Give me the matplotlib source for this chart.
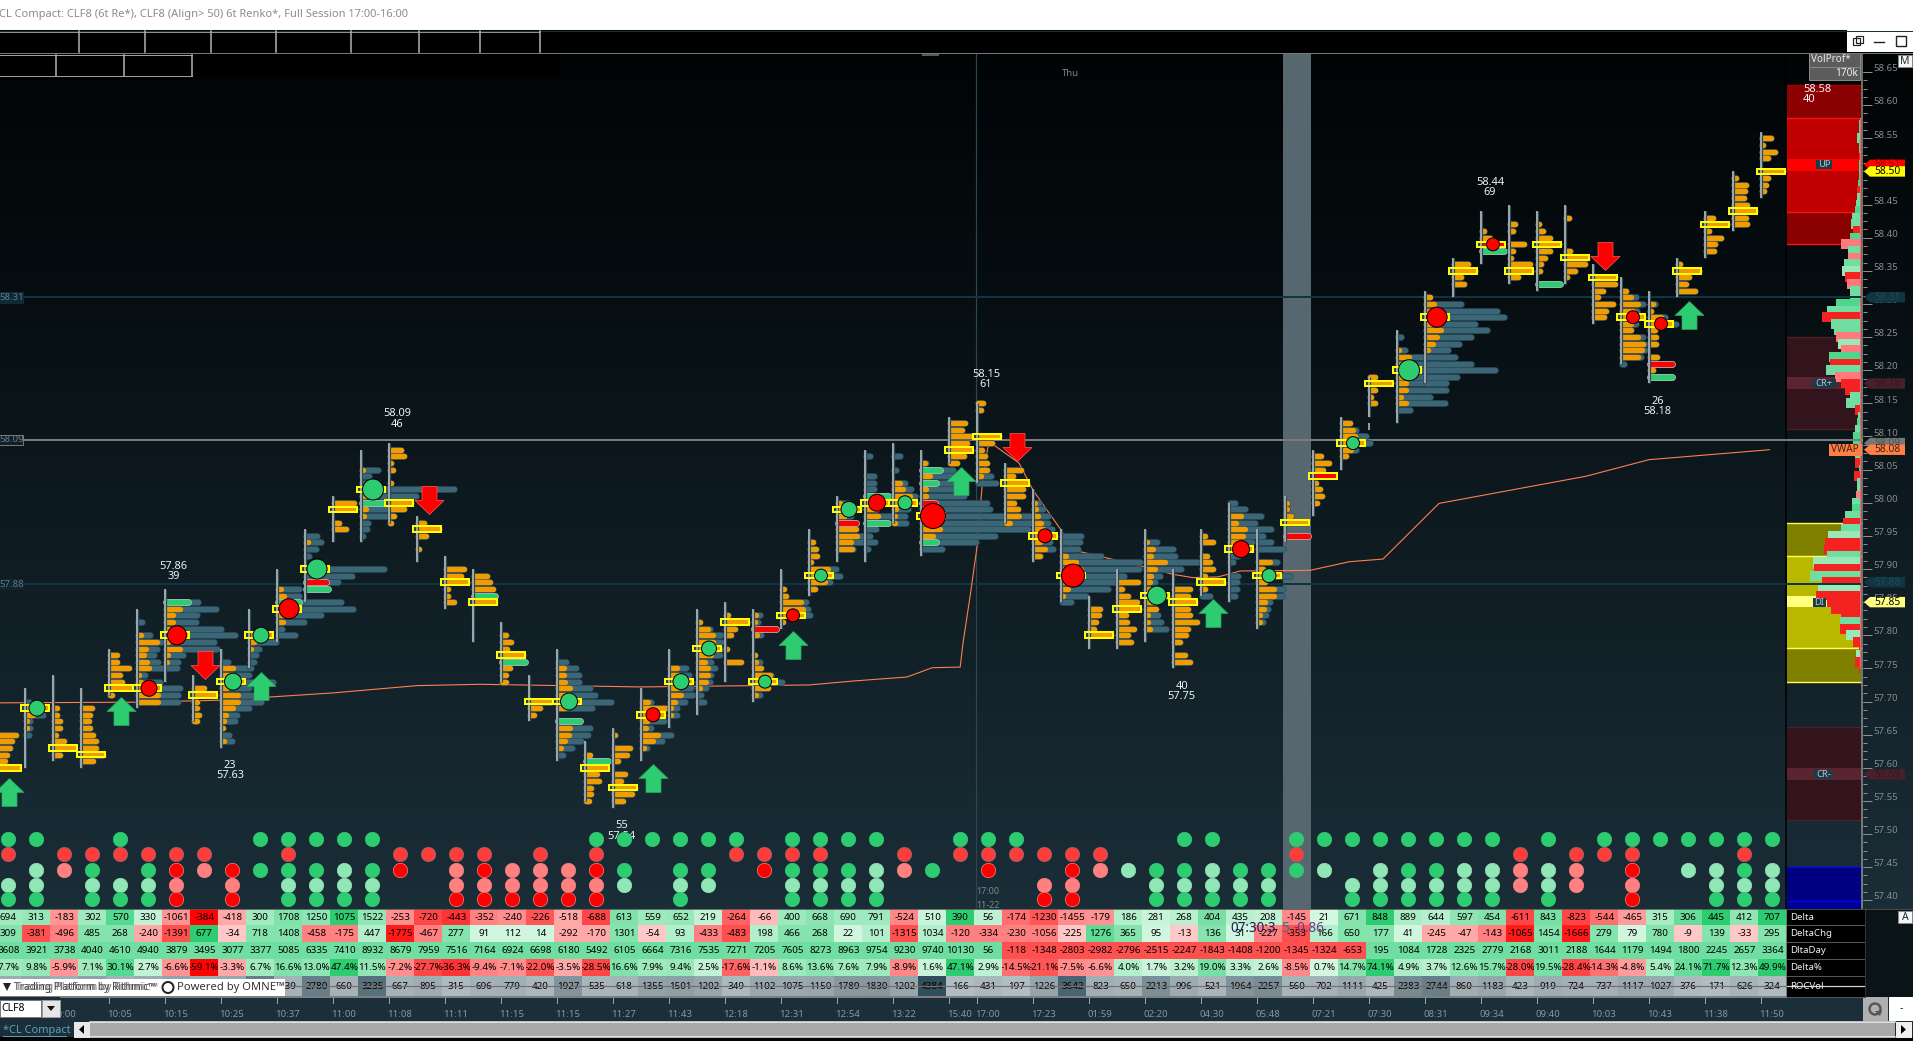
import numpy as np
import matplotlib
matplotlib.use('Agg')
import matplotlib.pyplot as plt
from matplotlib.patches import Rectangle, Polygon, Circle
from matplotlib.path import Path
from matplotlib.colors import LinearSegmentedColormap
from matplotlib.transforms import blended_transform_factory, Bbox, TransformedBbox

plt.rcParams['font.family'] = ['Noto Sans', 'DejaVu Sans']

# ---- renko bars, one entry per bar ----
bar_high = [57.65, 57.72, 57.74, 57.72, 57.78, 57.84, 57.87, 57.74, 57.78, 57.84, 57.90, 57.96, 58.01, 58.08, 58.09, 57.98,
            57.92, 57.90, 57.82, 57.74, 57.78, 57.64, 57.66, 57.72, 57.78, 57.84, 57.85, 57.84, 57.90, 57.96, 58.01, 58.08,
            58.09, 58.08, 58.13, 58.15, 58.06, 58.02, 57.96, 57.86, 57.90, 57.96, 57.90, 57.96, 58.00, 57.96, 58.01, 58.08,
            58.13, 58.19, 58.26, 58.32, 58.37, 58.44, 58.45, 58.44, 58.45, 58.36, 58.34, 58.32, 58.37, 58.44, 58.50, 58.56]
bar_low = [57.60, 57.60, 57.61, 57.60, 57.71, 57.69, 57.73, 57.67, 57.63, 57.75, 57.79, 57.85, 57.94, 57.94, 57.97, 57.91,
           57.84, 57.79, 57.73, 57.67, 57.61, 57.55, 57.54, 57.61, 57.66, 57.68, 57.73, 57.70, 57.81, 57.86, 57.91, 57.91,
           57.97, 57.92, 58.06, 58.03, 57.97, 57.91, 57.85, 57.78, 57.78, 57.79, 57.75, 57.86, 57.85, 57.81, 57.94, 57.98,
           58.05, 58.13, 58.12, 58.18, 58.31, 58.36, 58.33, 58.32, 58.33, 58.27, 58.21, 58.18, 58.31, 58.37, 58.41, 58.46]
bar_poc = [57.60, 57.69, 57.63, 57.62, 57.72, 57.72, 57.80, 57.71, 57.73, 57.80, 57.84, 57.90, 57.99, 58.02, 58.00, 57.96,
           57.88, 57.85, 57.77, 57.70, 57.70, 57.60, 57.57, 57.68, 57.73, 57.78, 57.82, 57.73, 57.83, 57.89, 57.99, 58.00,
           58.00, 57.98, 58.08, 58.10, 58.03, 57.95, 57.89, 57.80, 57.84, 57.86, 57.85, 57.88, 57.93, 57.89, 57.97, 58.04,
           58.09, 58.18, 58.20, 58.28, 58.35, 58.39, 58.35, 58.39, 58.37, 58.34, 58.28, 58.27, 58.35, 58.42, 58.44, 58.50]
prof_top = [57.65, 57.70, 57.72, 57.69, 57.77, 57.82, 57.86, 57.72, 57.76, 57.81, 57.87, 57.95, 58.00, 58.05, 58.08, 57.97,
            57.90, 57.89, 57.80, 57.71, 57.76, 57.62, 57.65, 57.70, 57.75, 57.83, 57.83, 57.83, 57.89, 57.94, 58.00, 58.07,
            58.07, 58.06, 58.12, 58.15, 58.05, 58.00, 57.95, 57.84, 57.88, 57.94, 57.87, 57.95, 58.00, 57.94, 58.00, 58.07,
            58.12, 58.19, 58.25, 58.31, 58.36, 58.41, 58.42, 58.42, 58.43, 58.34, 58.32, 58.30, 58.36, 58.43, 58.49, 58.55]
# traded at ask per price row, from prof_top down
prof_ask = [
    [21, 17, 15, 12, 10, 23], [3, 10, 10, 4, 4, 3], [3, 0, 0, 6, 6, 9, 9, 5, 13, 22, 9], [13, 11, 10, 11, 14, 17, 17, 24, 14],
    [10, 10, 22, 13, 15, 24, 5], [1, 0, 6, 22, 11, 9, 12, 14, 4, 6, 22, 23, 23], [1, 0, 17, 10, 10, 5, 22, 5, 17, 5, 4, 3],
    [13, 24, 6, 6, 8, 6], [0, 14, 14, 14, 8, 19, 19, 14, 7, 5, 4, 3, 5], [0, 8, 7, 4, 3, 0, 0], [6, 9, 0, 22, 8, 8, 1, 0],
    [2, 5, 3, 0, 0, 22, 0, 0, 0], [23, 24, 2, 8, 15], [4, 0, 0, 22, 10, 0, 7, 5, 2, 2, 1], [14, 17, 4, 6, 0, 4, 2, 0, 24, 17, 7, 4],
    [9, 24, 11, 3, 4], [21, 18, 24, 5, 5, 11], [16, 19, 22, 0, 24, 0, 3, 0, 0, 3, 3], [7, 12, 8, 24, 0, 11, 7, 7], [3, 24, 13, 7],
    [3, 9, 9, 10, 15, 15, 22, 10, 0, 0, 15, 14, 10, 6, 3], [7, 0, 24, 14, 16, 8, 8, 6], [4, 0, 19, 16, 7, 0, 14, 10, 24, 21, 12],
    [9, 27, 24, 8, 7, 19, 14, 5, 2], [10, 12, 24, 10, 14, 8, 4, 4], [1, 5, 13, 18, 18, 24, 16, 10, 13, 13, 11, 5, 2, 3],
    [5, 24, 12, 8, 0, 4, 0, 18, 0, 3, 3], [5, 4, 0, 6, 0, 0, 4, 5, 10, 19, 24, 17, 5], [2, 0, 5, 7, 22, 24, 24, 4],
    [6, 9, 10, 4, 21, 24, 18, 8], [5, 24, 10, 0, 21, 22, 16, 17, 3], [1, 1, 0, 0, 0, 0, 0, 24, 14, 15, 0, 2, 0, 3, 0],
    [2, 2, 2, 0, 9, 12, 19, 24, 5, 4, 4], [6, 0, 11, 0, 7, 7, 0, 16, 20, 20, 21, 14, 0, 2], [18, 15, 24, 20, 24, 17, 10],
    [8, 6, 0, 2, 2, 24, 17, 7, 10, 12, 12, 6, 3], [18, 10, 24, 20, 20, 11, 15, 16, 7], [4, 5, 7, 10, 12, 22, 9, 14, 9],
    [0, 0, 0, 7, 17, 22, 22, 15, 9, 4, 1], [13, 12, 9, 7, 24], [23, 7, 13, 22, 24, 11, 12, 19, 13, 16],
    [4, 10, 8, 22, 12, 8, 7, 7, 24, 13, 13, 5, 5, 7], [19, 17, 24, 17, 19, 26, 17, 15, 9, 3, 14, 19],
    [6, 14, 0, 8, 11, 14, 6, 24, 6, 2], [0, 0, 14, 9, 18, 16, 12, 24, 3, 0, 0, 3, 2, 2, 1],
    [1, 3, 3, 15, 8, 24, 10, 19, 19, 10, 9, 5, 5, 2], [4, 4, 8, 24, 0, 0], [10, 18, 12, 0, 5, 9, 11, 6], [11, 14, 16, 24, 12, 7],
    [8, 24, 8, 4, 8, 3], [3, 0, 4, 14, 13, 24, 8, 11, 11, 6, 11, 2], [7, 11, 10, 24, 8, 18, 14, 10, 5, 3, 2, 2, 2, 2],
    [17, 24, 10, 13], [5, 11, 0, 0], [8, 6, 0, 17, 6, 4, 23, 24, 11], [4, 8, 15, 24, 15, 10, 6, 5, 0, 0],
    [6, 0, 0, 0, 0, 7, 24, 22, 12, 4], [24, 24, 12, 7, 22, 15, 13], [7, 12, 19, 14, 24, 12, 12, 19, 24, 23, 19, 2],
    [6, 4, 14, 24, 8, 9, 9, 0, 10, 0, 6, 0], [5, 24, 14, 11, 20], [10, 24, 6, 18, 12, 11], [5, 15, 14, 13, 16, 24, 15, 16],
    [12, 4, 16, 9, 0, 24, 9, 7, 5]]
# total traded per price row; only bars that show more than the ask part
prof_total = {
    1: [6, 12, 20, 7, 7, 6], 5: [7, 0, 15, 26, 22, 19, 23, 28, 10, 25, 45, 43, 43],
    6: [3, 35, 53, 34, 33, 58, 72, 51, 54, 20, 15, 14], 8: [9, 29, 30, 54, 30, 32, 42, 30, 18, 16, 4, 10, 13],
    9: [2, 18, 29, 12, 9, 7, 4], 10: [24, 24, 66, 78, 46, 29, 7, 20], 11: [14, 18, 13, 6, 3, 81, 49, 35, 25],
    13: [19, 10, 6, 30, 28, 30, 28, 27, 9, 8, 4], 14: [14, 17, 4, 6, 0, 4, 67, 29, 24, 17, 7, 4],
    20: [11, 21, 24, 24, 35, 40, 56, 37, 0, 25, 35, 33, 26, 17, 8], 23: [12, 27, 24, 25, 12, 32, 23, 8, 2],
    24: [19, 22, 24, 24, 26, 18, 10, 10], 25: [2, 5, 15, 26, 26, 26, 25, 16, 20, 16, 15, 11, 6, 9],
    27: [9, 7, 25, 10, 0, 0, 4, 9, 10, 20, 31, 17, 9], 28: [2, 0, 5, 7, 27, 29, 31, 4], 29: [6, 9, 10, 4, 29, 33, 23, 8],
    30: [13, 24, 16, 21, 21, 33, 30, 18, 3], 31: [7, 2, 0, 11, 11, 11, 30, 24, 14, 28, 25, 13, 7, 12, 5],
    32: [9, 2, 5, 0, 14, 20, 24, 24, 17, 14, 15], 33: [7, 34, 40, 40, 45, 45, 68, 71, 111, 115, 109, 76, 57, 23],
    35: [8, 6, 0, 2, 2, 24, 17, 7, 10, 12, 12, 16, 21], 37: [8, 12, 17, 17, 21, 24, 19, 22, 9],
    38: [22, 21, 19, 42, 81, 80, 65, 62, 49, 27, 12], 41: [14, 30, 32, 55, 38, 17, 12, 7, 24, 13, 13, 15, 18, 23],
    43: [6, 14, 0, 8, 11, 14, 6, 24, 6, 11], 44: [8, 18, 34, 28, 44, 36, 25, 24, 11, 6, 3, 11, 10, 10, 8],
    45: [16, 28, 3, 22, 8, 35, 10, 28, 27, 15, 13, 11, 8, 2], 48: [11, 17, 27, 31, 17, 7],
    50: [6, 0, 10, 31, 45, 48, 38, 51, 51, 35, 50, 15], 51: [7, 38, 74, 81, 52, 64, 48, 36, 25, 32, 48, 72, 34, 23],
    58: [7, 17, 24, 18, 24, 17, 12, 24, 26, 26, 22, 5], 59: [8, 4, 18, 29, 8, 9, 9, 0, 10, 25, 6, 25]}

imb_bar = [6, 10, 11, 13, 17, 18, 20, 21, 31, 31, 33, 33, 33, 53, 55, 59, 11, 27, 30, 33, 46, 59]
imb_price = [57.85, 57.85, 57.87, 58.00, 57.86, 57.76, 57.67, 57.61, 58.01, 57.97, 58.05, 58.03, 57.94, 58.38, 58.33, 58.19,
             57.88, 57.81, 57.97, 58.00, 57.95, 58.21]
imb_size = [25, 24, 25, 24, 24, 26, 25, 25, 25, 25, 21, 17, 17, 25, 25, 25, 23, 25, 21, 16, 25, 25]
imb_side = ['g'] * 16 + ['r'] * 6
red_poc_bars = [47, 53]

dot_bar = [1, 5, 6, 8, 9, 10, 11, 13, 20, 23, 24, 25, 27, 28, 29, 30, 31, 32, 33, 37, 38, 41, 44, 45, 48, 50, 51, 53, 58, 59]
dot_side = ['g', 'r', 'r', 'g', 'g', 'r', 'g', 'g', 'g', 'r', 'g', 'g', 'g', 'r', 'g', 'g', 'r', 'g', 'r', 'r', 'r', 'g',
            'r', 'g', 'g', 'g', 'r', 'r', 'r', 'r']
dot_size = [16, 16, 19, 17, 16, 20, 20, 21, 17, 14, 16, 15, 13, 13, 13, 16, 17, 14, 25, 14, 23, 19, 17, 14, 13, 21, 20, 13, 13, 13]

up_bar = [0, 4, 9, 23, 28, 34, 43, 60]
up_price = [57.564, 57.685, 57.723, 57.584, 57.785, 58.033, 57.834, 58.283]
down_bar = [7, 15, 36, 57]
down_price = [57.755, 58.004, 58.084, 58.373]

note_text = ['58.09\n46', '57.86\n39', '23\n57.63', '58.15\n61', '40\n57.75', '58.44\n69', '26\n58.18', '55\n57.54']
note_x = [14.3, 6.31, 8.32, 35.32, 42.31, 53.32, 59.31, 22.31]
note_price = [58.126, 57.896, 57.596, 58.186, 57.715, 58.476, 58.145, 57.505]

vwap_x = [0.11, 5, 8, 12, 15, 17.25, 23, 29, 30.6, 32.5, 33.4, 34.4, 34.5, 34.75, 35, 35.2, 35.4, 35.6, 36.5, 37, 38, 38.4,
          41, 42, 42.7, 43.6, 44.4, 46.9, 48.3, 49.5, 51.5, 56.75, 59, 63.3]
vwap_p = [57.698, 57.699, 57.702, 57.713, 57.724, 57.726, 57.722, 57.725, 57.731, 57.737, 57.751, 57.752, 57.788, 57.858,
          57.933, 58.034, 58.087, 58.087, 58.06, 58.019, 57.959, 57.929, 57.903, 57.892, 57.887, 57.888, 57.897, 57.898,
          57.911, 57.915, 57.999, 58.04, 58.065, 58.08]

# right hand volume profile, 58.57 down to 57.75
vp_top = 58.57
vp_size = [1.5, 1.5, 3, 1, 1, 1, 1, 1, 1.5, 2, 3, 3, 4, 5, 8, 9, 7, 10, 19, 12, 12, 16, 18, 15, 13, 10, 10, 24, 33, 38, 29, 26,
           24, 22, 19, 31, 30, 34, 25, 19, 15, 10, 14, 5, 2, 3, 5, 7, 7, 5, 5, 5, 1, 6, 3, 3, 4, 8, 8, 15, 17, 19, 32, 35, 36,
           33, 47, 46, 50, 38, 42, 44, 33, 29, 19, 20, 20, 14, 7, 1, 4, 5, 1]
vp_kind = ['g', 'g', 'l', 'g', 'g', 'r', 'g', 'g', 'g', 'g', 'r', 'l', 'l', 'g', 'l', 'l', 'r', 'g', 's', 'l', 's', 'l', 'p', 'r',
           's', 'l', 'l', 'g', 'l', 'r', 'l', 'l', 's', 'p', 's', 'g', 'r', 'l', 's', 'r', 'r', 'l', 'l', 'r', 'l', 'g', 'l',
           'g', 'g', 'l', 'l', 'r', 'g', 'r', 'l', 'l', 's', 'l', 'g', 'l', 'r', 'l', 'p', 'r', 'r', 'l', 'p', 'r', 'l', 'r',
           'p', 'r', 'r', 'r', 'r', 'l', 'r', 'p', 'r', 'r', 'p', 'r', 'r']

# ---- price zones on the right ----
zone_low = [58.390, 58.439, 58.501, 58.111, 58.172, 57.730, 57.781, 57.842, 57.920, 57.521, 57.582, 57.387, 57.399]
zone_high = [58.630, 58.581, 58.519, 58.250, 58.190, 57.970, 57.920, 57.859, 57.970, 57.662, 57.600, 57.451, 57.451]
zone_color = ['#8b0000', '#c00000', '#ff0000', '#33131c', '#5a2431', '#808000', '#b8b800', '#ffff80', '#808000', '#33131c',
              '#5a2431', '#000090', '#000080']
zone_line = [58.630, 58.581, 58.439, 58.390, 58.250, 58.111, 57.970, 57.920, 57.781, 57.730, 57.662, 57.521, 57.451, 57.399]
zone_line_color = ['#a00000', '#ff1010', '#ff1010', '#ff1010', '#4a2029', '#4a2029', '#ffff50', '#ffff50', '#ffff50', '#ffff50',
                   '#4a2029', '#4a2029', '#0000ff', '#0000ff']

# ---- table under the chart ----
delta = [694, 313, -183, 302, 570, 330, -1061, -384, -418, 300, 1708, 1250, 1075, 1522, -253, -720, -443, -352, -240, -226,
         -518, -688, 613, 559, 652, 219, -264, -66, 400, 668, 690, 791, -524, 510, 390, 56, -174, -1230, -1455, -179, 186,
         281, 268, 404, 435, 208, -145, 21, 671, 848, 889, 644, 597, 454, -611, 843, -823, -544, -465, 315, 306, 445, 412, 707]
delta_chg = [309, -381, -496, 485, 268, -240, -1391, 677, -34, 718, 1408, -458, -175, 447, -1775, -467, 277, 91, 112, 14,
             -292, -170, 1301, -54, 93, -433, -483, 198, 466, 268, 22, 101, -1315, 1034, -120, -334, -230, -1056, -225, 1276,
             365, 95, -13, 136, 31, -227, -353, 166, 650, 177, 41, -245, -47, -143, -1065, 1454, -1666, 279, 79, 780, -9,
             139, -33, 295]
chg_shade = [3, 4, 3, 3, 3, 2, 4, 5, 1, 3, 3, 3, 3, 2, 5, 3, 3, 1, 1, 1, 2, 2, 3, 1, 2, 3, 4, 2, 3, 3, 1, 2, 4, 2, 3, 3, 3, 3, 1, 4,
             3, 1, 1, 3, 1, 3, 4, 2, 3, 3, 1, 2, 2, 3, 5, 3, 5, 3, 1, 3, 1, 3, 1, 3]
delta_day = [3608, 3921, 3738, 4040, 4610, 4940, 3879, 3495, 3077, 3377, 5085, 6335, 7410, 8932, 8679, 7959, 7516, 7164, 6924,
             6698, 6180, 5492, 6105, 6664, 7316, 7535, 7271, 7205, 7605, 8273, 8963, 9754, 9230, 9740, 10130, 56, -118, -1348,
             -2803, -2982, -2796, -2515, -2247, -1843, -1408, -1200, -1345, -1324, -653, 195, 1084, 1728, 2325, 2779, 2168,
             3011, 2188, 1644, 1179, 1494, 1800, 2245, 2657, 3364]
delta_pct = [7.7, 9.8, -5.9, 7.1, 30.1, 2.7, -6.6, -59.1, -3.3, 6.7, 16.6, 13.0, 47.4, 11.5, -7.2, -27.7, -36.3, -9.4, -7.1,
             -22.0, -3.5, -28.5, 16.6, 7.9, 9.4, 2.5, -17.6, -1.1, 8.6, 13.6, 7.6, 7.9, -8.9, 1.6, 47.1, 2.9, -14.5, -21.1,
             -7.5, -6.6, 4.0, 1.7, 3.2, 19.0, 3.3, 2.6, -8.5, 0.7, 14.7, 74.1, 4.9, 3.7, 12.6, 15.7, -28.0, 19.5, -28.4, -14.3,
             -4.8, 5.4, 24.1, 71.7, 12.3, 49.9]
# the first ten are under the white strip, only their cell colour shows
roc_vol = [900, 1200, 800, 1400, 700, 1000, 1300, 900, 1100, 2800, 639, 2780, 660, 3235, 667, 895, 315, 696, 779, 420, 1927,
           535, 618, 1355, 1501, 1202, 349, 1102, 1075, 1150, 1789, 1830, 1202, 4384, 166, 431, 197, 1226, 3642, 823, 650,
           2213, 996, 521, 1964, 2257, 560, 702, 1111, 425, 2383, 2744, 860, 1183, 423, 919, 724, 737, 1117, 1027, 376, 171,
           626, 324]
row_names = ['Delta', 'DeltaChg', 'DltaDay', 'Delta%', 'ROCVol']

# five signal rows above the table, one string per bar (top row first)
signals = ['gr.pg', 'g.ppg', '.rs..', '.rgpg', 'gr.pg', '.rgpg', '.rRsR', '.rs..', '..RsR', 'g.g..', 'grgpg',
           'g.gpg', 'g.ppg', 'g.gpg', '.rR..', '.r...', '.rssR', '.rRsR', '..ssR', '.rssR', '..ssR', 'grRsR', 'g.gp.', 'g....',
           'g.gpg', 'g.gp.', 'gr...', '.rR..', 'grgpg', 'grgpg', 'g.gpg', 'g.ppg', '.rs..', '..g..', 'gr...', 'grR..', 'gr...',
           '.r.sR', '.rRsR', '.rs..', '..p..', '..gpg', 'g.gpg', 'g.ppg', '..gpg', '..gpg', 'grg..', 'g.p..', 'g..pg', 'g.ppg',
           'g.gpg', 'g.gpg', 'g.ppg', 'g.ppg', '.rss.', 'g.ppg', '.rss.', 'gr...', 'grRsR', 'g....', 'g.p..', 'g.ppg', 'grgpg',
           'g.ppg']

time_bars = [2, 4, 6, 8, 10, 12, 14, 16, 18, 20, 22, 24, 26, 28, 30, 32, 34, 35, 37, 39, 41, 43, 45, 47, 49, 51, 53, 55, 57, 59, 61, 63]
time_labels = ['10:00', '10:05', '10:15', '10:25', '10:37', '11:00', '11:08', '11:11', '11:15', '11:15', '11:27', '11:43', '12:18',
               '12:31', '12:54', '13:22', '15:40', '17:00', '17:23', '01:59', '02:20', '04:30', '05:48', '07:21', '07:30', '08:31',
               '09:34', '09:40', '10:03', '10:43', '11:38', '11:50']

axis_major = [57.40, 57.45, 57.50, 57.55, 57.60, 57.65, 57.70, 57.75, 57.80, 57.85, 57.90, 57.95, 58.00, 58.05, 58.10, 58.15,
              58.20, 58.25, 58.30, 58.35, 58.40, 58.45, 58.50, 58.55, 58.60, 58.65]

W, H = 1913, 1041
BAR_PX = 28.0
PRICE_PX = 662.6
GREEN = '#2ecc71'
RED = '#ff0000'
ORANGE = '#f09c00'
SLATE = '#3b6675'
SLATE_DK = '#27465a'


def pts(px):
    return px * 0.72


fig = plt.figure(figsize=(W / 100, H / 100), dpi=100)


def layer(z, xlim, ylim):
    a = fig.add_axes([0, 0, 1, 1], zorder=z)
    a.set_xlim(*xlim)
    a.set_ylim(*ylim)
    a.axis('off')
    a.patch.set_visible(False)
    return a


bar_xlim = (3 / BAR_PX, (W + 3) / BAR_PX)
price_ylim = (57.4 + (900.3 - H) / PRICE_PX, 57.4 + 900.3 / PRICE_PX)

bg = layer(0, (0, W), (H, 0))
ax = layer(1, bar_xlim, price_ylim)     # bars / price
low = layer(2, bar_xlim, (H, 0))        # bars / pixel rows
ui = layer(3, (0, W), (H, 0))           # window chrome
edge = blended_transform_factory(bg.transData, ax.transData)  # x pixels, y price
edge_top = blended_transform_factory(ui.transData, ax.transData)

# chart background
grad = LinearSegmentedColormap.from_list('bg', [(0, '#010304'), (0.28, '#060d10'), (0.5, '#0c181d'), (0.8, '#15252d'), (1, '#1a2e38')])
bg.imshow(np.linspace(0, 1, 256).reshape(-1, 1), cmap=grad, extent=(0, W, 909, 30), aspect='auto', zorder=0)
bg.set_xlim(0, W)
bg.set_ylim(H, 0)
bg.add_patch(Rectangle((0, 909), W, H - 909, fc='#1a2f3a', ec='none'))
bg.add_patch(Rectangle((1283, 53), 28, 856, fc='#566770', ec='none', zorder=1))
bg.plot([975.5, 975.5], [53, 909], color='#2d4653', lw=pts(1.2), zorder=1)
bg.text(1070, 74, 'Thu', color='#7c8a90', fontsize=pts(9.5), ha='center', va='center')
bg.text(988, 892, '17:00', color='#7c8a90', fontsize=pts(9), ha='center', va='center')
bg.text(988, 905, '11-22', color='#7c8a90', fontsize=pts(9), ha='center', va='center')
bg.add_patch(Rectangle((922, 52), 17, 4, fc='#555b5e', ec='none', zorder=1))

# price level lines
ax.plot([24, 1862], [58.095, 58.095], color='#7a7a7a', lw=pts(2), transform=edge, zorder=2)
for lv in [58.31, 57.877]:
    ax.plot([24, 1862], [lv, lv], color='#103541', lw=pts(2), transform=edge, zorder=1.5)

# zones and right profile
for lo, hi, c in zip(zone_low, zone_high, zone_color):
    ax.add_patch(Rectangle((1787, lo), 74, hi - lo, fc=c, ec='none', transform=edge, zorder=1.2))
for lv, c in zip(zone_line, zone_line_color):
    ax.plot([1787, 1861], [lv, lv], color=c, lw=pts(1.4), transform=edge, zorder=1.3)
ax.plot([1786, 1786], [57.387, 58.70], color='#000000', lw=pts(1.5), transform=edge, zorder=1.3)

vp_colors = {'g': '#4fd68d', 'l': '#6fdea0', 'p': '#98e8b9', 'r': '#f52222', 's': '#ff7a7a'}
for k, (w, c) in enumerate(zip(vp_size, vp_kind)):
    p = vp_top - 0.01 * k
    ax.add_patch(Rectangle((1860 - w, p - 0.0075), w, 0.015, fc=vp_colors[c], ec='none', transform=edge, zorder=1.4))
ax.plot([1860, 1860], [57.75, 58.58], color='#ff6060', lw=pts(1), transform=edge, zorder=1.4)

# orange line
ax.plot(vwap_x, vwap_p, color='#ff7f50', lw=pts(1.1), zorder=2.5)

# profiles
for i in range(64):
    ask = prof_ask[i]
    total = prof_total.get(i, ask)
    rows = [prof_top[i] - 0.01 * k for k in range(len(total))]
    x0 = i + 1 / BAR_PX
    rt = [(p, t) for p, t in zip(rows, total) if t > 0]
    if rt:
        y = [a[0] for a in rt]
        xe = [x0 + max(a[1] - 3, 0) / BAR_PX for a in rt]
        ax.hlines(y, x0, xe, colors=SLATE_DK, lw=pts(6.6), capstyle='round', zorder=3)
        ax.hlines(y, x0, xe, colors=SLATE, lw=pts(5.4), capstyle='round', zorder=3)
    ra = [(p, t) for p, t in zip(rows, ask) if t > 0]
    if ra:
        y = [a[0] for a in ra]
        xe = [x0 + max(a[1] - 3, 0) / BAR_PX for a in ra]
        ax.hlines(y, x0, xe, colors=ORANGE, lw=pts(5.4), capstyle='round', zorder=3)
    for b, p, n, s in zip(imb_bar, imb_price, imb_size, imb_side):
        if b == i:
            xe = x0 + (n - 3) / BAR_PX
            ax.hlines(p, x0, xe, colors='#b9c4c6', lw=pts(6.8), capstyle='round', zorder=3)
            ax.hlines(p, x0, xe, colors=GREEN if s == 'g' else RED, lw=pts(5.4), capstyle='round', zorder=3)
    # price of control box
    p = bar_poc[i]
    h = 2.8 / PRICE_PX
    ax.add_patch(Rectangle((i - 4.3 / BAR_PX, p - h), 28.6 / BAR_PX, 2 * h, fc='#23404c', ec='none', zorder=3))
    ax.add_patch(Rectangle((i + 1 / BAR_PX, p - h), 22 / BAR_PX, 2 * h,
                           fc=RED if i in red_poc_bars else ORANGE, ec='none', zorder=3))
    ax.vlines(i, bar_low[i], bar_high[i], colors='#2d4a57', lw=pts(3.2), zorder=3)
    ax.vlines(i, bar_low[i], bar_high[i], colors='#b8bcbe', lw=pts(1.6), zorder=3)
    ax.add_patch(Rectangle((i - 4.3 / BAR_PX, p - h), 28.6 / BAR_PX, 2 * h, fc='none', ec='#ffff00', lw=pts(2.0), zorder=3))
ax.vlines(49, 58.11, 58.12, colors='#b8bcbe', lw=pts(1.6), zorder=3)

ax.scatter([b + 12 / BAR_PX for b in dot_bar], [bar_poc[b] for b in dot_bar], s=[pts(d) ** 2 for d in dot_size],
           c=[GREEN if s == 'g' else RED for s in dot_side], edgecolors='#000000', linewidths=pts(1), zorder=5)

# arrows
up_path = Path([(0, 14), (14.5, 0), (7.5, 0), (7.5, -14), (-7.5, -14), (-7.5, 0), (-14.5, 0), (0, 14)], closed=True)
down_path = Path([(0, -14), (14.5, 0), (7.5, 0), (7.5, 14), (-7.5, 14), (-7.5, 0), (-14.5, 0), (0, -14)], closed=True)
ax.scatter([b + 12.4 / BAR_PX for b in up_bar], up_price, marker=up_path, s=pts(29) ** 2, c=GREEN, edgecolors='#27a85e',
           linewidths=0.5, zorder=6)
ax.scatter([b + 12.4 / BAR_PX for b in down_bar], down_price, marker=down_path, s=pts(29) ** 2, c=RED, edgecolors='#ff5a5a',
           linewidths=0.5, zorder=6)

for t, x, p in zip(note_text, note_x, note_price):
    ax.text(x, p, t, color='#eef2f4', fontsize=pts(11), ha='center', va='center', linespacing=0.95, zorder=7)
ax.text(1803, 58.616, '58.58\n40', color='#f4f4f4', fontsize=pts(11), ha='left', va='center', linespacing=0.95,
        transform=edge, zorder=7)

# price axis
ax.plot([1862, 1862], [57.387, 58.68], color='#8f8f8f', lw=pts(1.5), transform=edge_top, zorder=8)
minor = [57.4 + 0.0125 * k for k in range(101)]
ax.hlines(minor, 1863, 1867, colors='#8f8f8f', lw=pts(1), transform=edge_top, zorder=8)
ax.hlines(axis_major, 1863, 1872, colors='#8f8f8f', lw=pts(1), transform=edge_top, zorder=8)
for p in axis_major:
    ax.text(1873, p + 3.3 / PRICE_PX, '%.2f' % p, color='#8a8a8a', fontsize=pts(9.6), ha='left', va='center',
            transform=edge_top, zorder=8)


def tag(price, text, fc, tc, x0=1864, half=5.2):
    h = half / PRICE_PX
    pts_xy = [(x0, price), (x0 + 6, price + h), (1905, price + h), (1905, price - h), (x0 + 6, price - h)]
    ax.add_patch(Polygon(pts_xy, closed=True, fc=fc, ec='none', transform=edge_top, zorder=9))
    ax.text(1874, price, text, color=tc, fontsize=pts(10.2), ha='left', va='center', transform=edge_top, zorder=9)


def zone_label(price, text, x0, x1):
    h = 4.6 / PRICE_PX
    ax.add_patch(Rectangle((x0, price - h), x1 - x0, 2 * h, fc='#1d3a48', ec='none', transform=edge, zorder=2))
    ax.text((x0 + x1) / 2, price, text, color='#b4c4cc', fontsize=pts(9.4), ha='center', va='center', transform=edge, zorder=2)


zone_label(58.51, 'UP', 1816, 1832)
zone_label(58.18, 'CR+', 1812, 1836)
zone_label(57.85, 'DI', 1813, 1826)
zone_label(57.59, 'CR-', 1814, 1833)
tag(58.51, '58.51', '#ff0000', '#a00000')
tag(58.50, '58.50', '#ffff00', '#000000')
tag(58.31, '58.31', '#123542', '#1f4a58')
tag(58.18, '58.18', '#4a1f2c', '#2c1a20')
tag(58.09, '58.09', '#777777', '#555555')
tag(58.08, '58.08', '#ff7f45', '#402010')
tag(57.88, '57.88', '#123542', '#1f4a58')
tag(57.85, '57.85', '#ffff80', '#000000')
tag(57.59, '57.59', '#4a1f2c', '#2c1a20')
ax.add_patch(Rectangle((1829, 58.08 - 6 / PRICE_PX), 33, 12 / PRICE_PX, fc='#ff7f45', ec='none', transform=edge_top, zorder=9))
ax.text(1845, 58.08, 'VWAP', color='#402010', fontsize=pts(10), ha='center', va='center', transform=edge_top, zorder=9)

# left tags
for lv, txt, fc, ec, tc in [(58.31, '58.31', '#102a35', '#102a35', '#5e7a85'), (58.095, '58.09', '#10202a', '#777777', '#6e7d84'),
                            (57.877, '57.88', '#10252f', '#10252f', '#5e7a85')]:
    h = 5.2 / PRICE_PX
    ax.add_patch(Rectangle((-2, lv - h), 25, 2 * h, fc=fc, ec=ec, lw=pts(1), transform=edge, zorder=2))
    ax.text(-1, lv, txt, color=tc, fontsize=pts(9.6), ha='left', va='center', transform=edge, zorder=2)

# signal dots
dot_fc = {'g': GREEN, 'p': '#90e6b5', 'r': '#ff3c3c', 'R': '#ff0000', 's': '#ff8080'}
dot_ec = {'g': GREEN, 'p': '#90e6b5', 'r': '#8a6a6a', 'R': '#ff8080', 's': '#ff8080'}
dot_rows = [839.3, 854.3, 869.7, 884.7, 899.3]
for i, s in enumerate(signals):
    for ry, c in zip(dot_rows, s):
        if c in dot_fc:
            low.scatter(i + 0.407, ry, s=pts(14.4) ** 2, c=dot_fc[c], edgecolors=dot_ec[c], linewidths=pts(0.7), zorder=3)

# table
pct_green = LinearSegmentedColormap.from_list('g', [(0, '#d8f8e5'), (0.05, '#a8ecc4'), (0.15, '#85e3ad'), (0.3, '#55d88f'), (0.47, GREEN), (1, GREEN)])
pct_red = LinearSegmentedColormap.from_list('r', [(0, '#ffc0c0'), (0.05, '#ff9999'), (0.1, '#ff8080'), (0.2, '#ff5a5a'), (0.3, '#ff4040'), (0.6, '#ff0000'), (1, '#ff0000')])
chg_green = ['#d0f6e0', '#b4efcd', '#85e3ad', '#5fdb96', GREEN]
chg_red = ['#ffc8c8', '#ffa8a8', '#ff8080', '#ff5050', '#ff1a1a']
vol_cm = LinearSegmentedColormap.from_list('v', ['#b4c2c6', '#7b8f98', '#2f4f5d'])
row_top = [909.3, 925.3, 942.0, 959.0, 976.0]
row_bot = [925.3, 942.0, 959.0, 976.0, 996.7]


def pct_color(v):
    return pct_green(abs(v) / 100) if v >= 0 else pct_red(abs(v) / 100)


cols = np.arange(64) + 0.407
row_colors = [
    [pct_color(v) for v in delta_pct],
    [chg_green[s - 1] if v >= 0 else chg_red[s - 1] for v, s in zip(delta_chg, chg_shade)],
    ['#6fdea0' if v >= 0 else '#ff5050' for v in delta_day],
    [pct_color(v) for v in delta_pct],
    [vol_cm(min(v / 4400, 1)) for v in roc_vol],
]
row_text = [[str(v) for v in delta], [str(v) for v in delta_chg], [str(v) for v in delta_day],
            ['%.1f%%' % v for v in delta_pct], [str(v) for v in roc_vol]]
for r in range(5):
    low.bar(cols, row_bot[r] - row_top[r], width=1.0, bottom=row_top[r], color=row_colors[r], align='center', zorder=3)
    for k, txt in enumerate(row_text[r]):
        if r == 4 and k < 10:
            continue
        t = low.text(cols[k], (row_top[r] + row_bot[r]) / 2 + 0.3, txt, color='#000000', fontsize=pts(9.8), ha='center',
                     va='center', zorder=4)
        t.set_clip_on(True)
        t.set_clip_box(TransformedBbox(Bbox([[cols[k] - 0.5, row_top[r]], [cols[k] + 0.5, row_bot[r]]]), low.transData))
low.plot([0, 66], [986, 986], color='#7d6c66', lw=pts(1.2), zorder=5)

# timer overlay
low_txt = dict(fontsize=pts(13.5), fontweight='bold', va='center', ha='left', zorder=6)
ui.text(1230, 928, '07:30:3', color='#1c1c58', **low_txt)
ui.text(1281, 928, '5', color='#1a7f8f', **low_txt)
ui.text(1293, 928, '-0.86', color='#6a3a8a', **low_txt)

# time axis
ui.add_patch(Rectangle((0, 996), 1786, 1.5, fc='#7f7f7f', ec='none'))
for b, lab in zip(time_bars, time_labels):
    low.plot([b, b], [997, 1003], color='#9aa6ab', lw=pts(1), zorder=4)
    low.text(b + 10.5 / BAR_PX, 1014.3, lab, color='#87979e', fontsize=pts(9.6), ha='center', va='center', zorder=4)

# row names
ui.add_patch(Rectangle((1786, 909), 79, 88, fc='#000000', ec='none'))
ui.add_patch(Rectangle((1865, 909), 48, 88, fc='#0a1417', ec='none'))
for n, a, b in zip(row_names, row_top, row_bot):
    ui.plot([1786, 1865], [b, b], color='#555555', lw=pts(1))
    ui.text(1790, (a + b) / 2, n, color='#f0f0f0', fontsize=pts(9.6), ha='left', va='center')
ui.plot([1786, 1865], [986, 986], color='#e0d8d0', lw=pts(1.2))
ui.plot([1786, 1786], [909, 997], color='#777777', lw=pts(1))
ui.plot([1865, 1865], [909, 997], color='#333333', lw=pts(1))
ui.plot([0, W], [909, 909], color='#555555', lw=pts(0.8))


def button(x0, y0, x1, y1, text, fc='#f4f4f4', tc='#1a2f3a', size=10.5, ec='#888888'):
    ui.add_patch(Rectangle((x0, y0), x1 - x0, y1 - y0, fc=fc, ec=ec, lw=pts(1)))
    ui.text((x0 + x1) / 2, (y0 + y1) / 2, text, color=tc, fontsize=pts(size), ha='center', va='center')


button(1898, 911, 1912, 923, 'A')
button(1898, 55, 1912, 67, 'M')
button(1863, 997, 1887, 1021, '', fc='#b0b0b0', ec='#b0b0b0')
ui.add_patch(Circle((1875, 1009), 5.5, fc='none', ec='#555555', lw=pts(2.4)))
ui.add_patch(Polygon([(1875, 1011), (1882, 1011), (1880, 1016)], closed=True, fc='#555555', ec='none'))
button(1889, 997, W, 1021, '-', fc='#ffffff', tc='#111111', ec='#ffffff')

# white rithmic strip
ui.add_patch(Rectangle((0, 979), 285, 17, fc='#ffffff', ec='none', zorder=6))
for dx, c in [(0, '#333333'), (1.5, '#777777')]:
    ui.text(14 + dx, 987.5, 'Trading Platform by Rithmic\u2122', color=c, fontsize=pts(10.2), ha='left', va='center', zorder=7)
ui.text(177, 987.5, 'Powered by OMNE\u2122', color='#333333', fontsize=pts(11.2), ha='left', va='center', zorder=7)
ui.add_patch(Circle((168, 987.5), 5.5, fc='none', ec='#222222', lw=pts(2), zorder=7))
ui.add_patch(Polygon([(3, 983), (11, 983), (7, 991)], closed=True, fc='#222222', ec='none', zorder=7))

# symbol drop down
ui.add_patch(Rectangle((0, 997), 60, 22, fc='#1a2f3a', ec='none', zorder=6))
ui.add_patch(Rectangle((0, 1000), 41, 17, fc='#ffffff', ec='#777777', lw=pts(1), zorder=7))
ui.text(1, 1008.5, 'CLF8', color='#000000', fontsize=pts(10.5), ha='left', va='center', zorder=8)
ui.add_patch(Rectangle((42, 1000), 18, 17, fc='#e6e6e6', ec='#999999', lw=pts(1), zorder=7))
ui.add_patch(Polygon([(47, 1006), (55, 1006), (51, 1011)], closed=True, fc='#111111', ec='none', zorder=8))

# scroll bar
ui.add_patch(Rectangle((0, 1021), W, 20, fc='#1a2f3a', ec='none'))
ui.add_patch(Rectangle((0, 1037), W, 4, fc='#050505', ec='none'))
ui.add_patch(Rectangle((90, 1021.7), 1805, 15, fc='#a9a9a9', ec='none'))
ui.plot([90, 1895], [1022, 1022], color='#f4f4f4', lw=pts(1.5))
ui.plot([90, 1895], [1036.5, 1036.5], color='#f4f4f4', lw=pts(1.5))
button(74, 1022, 89, 1037, '', fc='#e8e8e8', ec='#e8e8e8')
ui.add_patch(Polygon([(84, 1025), (84, 1034), (79, 1029.5)], closed=True, fc='#000000', ec='none'))
button(1896, 1022, 1911, 1037, '', fc='#f0f0f0', ec='#f0f0f0')
ui.add_patch(Polygon([(1901, 1025), (1901, 1034), (1906, 1029.5)], closed=True, fc='#000000', ec='none'))
ui.text(3, 1030, '*CL Compact', color='#5f9fb5', fontsize=pts(11), ha='left', va='center')
ui.plot([3, 66], [1036, 1036], color='#5f9fb5', lw=pts(1))

# title bar and toolbar
ui.add_patch(Rectangle((0, 0), W, 30, fc='#ffffff', ec='none'))
ui.text(-1, 15, 'CL Compact: CLF8 (6t Re*), CLF8 (Align> 50) 6t Renko*, Full Session 17:00-16:00', color='#8c8c8c',
        fontsize=pts(11.1), ha='left', va='center')
ui.plot([0, W], [30.5, 30.5], color='#1a2f3a', lw=pts(1))
ui.add_patch(Rectangle((0, 31), W, 22, fc='#000000', ec='none'))
ui.add_patch(Rectangle((0, 53), 560, 23, fc='#000000', ec='none', zorder=0.5))
ui.plot([0, 540], [31.5, 31.5], color='#8f8f8f', lw=pts(1))
ui.plot([0, W], [52.5, 52.5], color='#777777', lw=pts(1))
for sx in [78.6, 145, 211, 276, 351, 419, 480, 540]:
    ui.plot([sx, sx], [31, 52], color='#aaaaaa', lw=pts(1.6))
ui.plot([0, 192], [54.5, 54.5], color='#9f9f9f', lw=pts(1))
ui.plot([0, 192], [75.5, 75.5], color='#9f9f9f', lw=pts(1))
for sx in [56, 124, 192]:
    ui.plot([sx, sx], [54.5, 75.5], color='#aaaaaa', lw=pts(1.6))

# window buttons
ui.add_patch(Rectangle((1847, 30), W - 1847, 22, fc='#ffffff', ec='none'))
ui.add_patch(Rectangle((1853, 38), 7, 7, fc='none', ec='#222222', lw=pts(1.2)))
ui.add_patch(Rectangle((1856, 36), 7, 7, fc='none', ec='#222222', lw=pts(1.2)))
ui.plot([1874, 1884], [41.5, 41.5], color='#222222', lw=pts(1.4))
ui.add_patch(Rectangle((1896, 36), 10, 10, fc='none', ec='#222222', lw=pts(1.4)))

# VolProf box
ui.add_patch(Rectangle((1809, 53), 51, 13.5, fc='#5c5c5c', ec='#888888', lw=pts(1)))
ui.add_patch(Rectangle((1809, 67), 51, 13, fc='#5c5c5c', ec='#888888', lw=pts(1)))
ui.text(1811, 60, 'VolProf*', color='#e8e8e8', fontsize=pts(10), ha='left', va='center')
ui.text(1858, 74, '170k', color='#f0f0f0', fontsize=pts(10), ha='right', va='center')

fig.savefig('out.png', dpi=100)
